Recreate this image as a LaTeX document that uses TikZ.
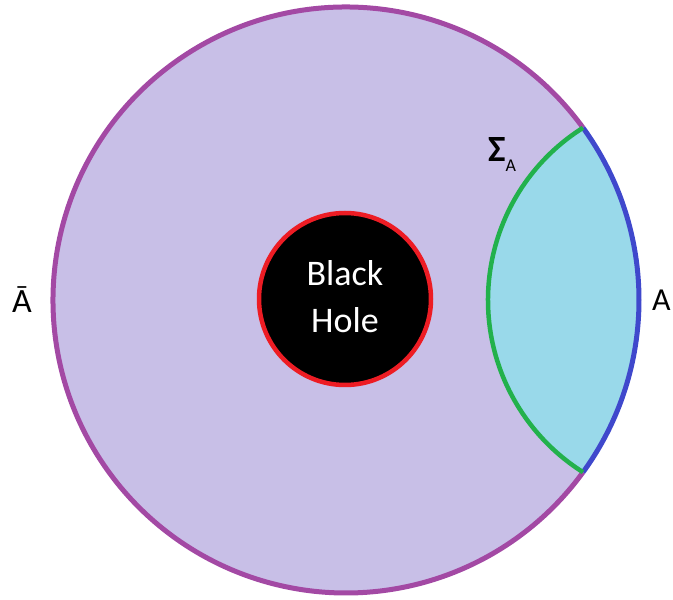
\documentclass[tikz,border=0pt]{standalone}
\usepackage{fontspec}
\setmainfont{Carlito}
\usetikzlibrary{calc}
\definecolor{lavendel}{HTML}{C8BFE7}
\definecolor{hellblau}{HTML}{99D9EA}
\definecolor{lila}{HTML}{A349A4}
\definecolor{blau}{HTML}{3F48CC}
\definecolor{gruen}{HTML}{22B14C}
\definecolor{rot}{HTML}{ED1C24}
\begin{document}
\begin{tikzpicture}[x=1pt, y=1pt, every node/.style={font=\fontsize{34}{40}\selectfont}]
  \useasboundingbox (0,0) rectangle (673,600);
  % Mittelpunkte: Aussenkreis und Kreis von Sigma_A
  \coordinate (mitte) at (346,300);
  \coordinate (gmitte) at (691.6,300);
  \coordinate (oben) at ($(mitte)+(36:293pt)$);
  % Aussenkreis (Flaeche)
  \fill[lavendel] (mitte) circle[radius=293pt];
  % Bereich A (Linse rechts)
  \fill[hellblau] (oben) arc[start angle=36, end angle=-36, radius=293pt]
    arc[start angle=237.76, end angle=122.24, radius=203.6pt] -- cycle;
  % Rand von A-quer
  \draw[lila, line width=5pt] (oben) arc[start angle=36, end angle=324, radius=293pt];
  % Rand von A
  \draw[blau, line width=5pt] (oben) arc[start angle=36, end angle=-36, radius=293pt];
  % Flaeche Sigma_A
  \draw[gruen, line width=4.5pt] (gmitte) ++(122.24:203.6pt)
    arc[start angle=122.24, end angle=237.76, radius=203.6pt];
  % Schwarzes Loch
  \node[circle, draw=rot, fill=black, line width=4.5pt, minimum size=172pt, inner sep=0pt,
        text=white, align=center, font=\fontsize{36}{47}\selectfont] (bh) at (345,301)
    {\raisebox{5pt}{Black}\\\raisebox{5pt}{Hole}};
  % Beschriftungen
  \node (aquer) at (22,300) {Ā};
  \node[anchor=west, inner sep=0pt, font=\fontsize{32}{38}\selectfont] (a) at (652,300) {A};
  \node[anchor=base west, inner sep=0pt, font=\fontsize{37}{40}\selectfont] (sigma) at (488,438)
    {\textbf{Σ}\raisebox{-10pt}{\fontsize{18}{18}\selectfont A}};
\end{tikzpicture}
\end{document}
